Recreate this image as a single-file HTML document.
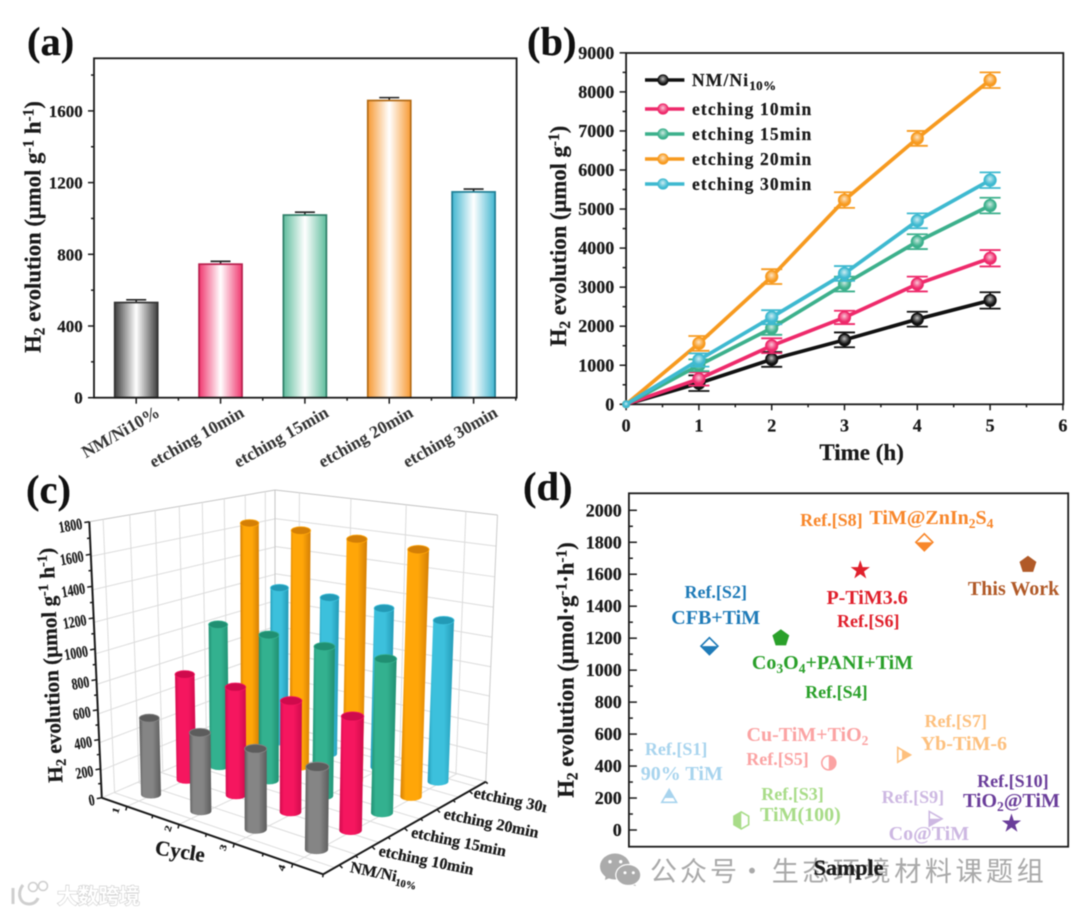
<!DOCTYPE html>
<html lang="en">
<head>
<meta charset="utf-8">
<title>H2 evolution figure</title>
<style>
html,body{margin:0;padding:0;background:#fff;}
svg{display:block;filter:blur(0.55px);}
text{font-family:"Liberation Serif","Noto Serif CJK SC",serif;font-weight:bold;fill:#1a1a1a;stroke:#1a1a1a;stroke-width:.22px;}
.sub{baseline-shift:-4px;font-size:68%;}
.sup{baseline-shift:7px;font-size:68%;}
.d1{font-size:18px;text-anchor:middle;stroke:none;}
.d2{font-size:20px;text-anchor:middle;stroke:none;}
.panel{font-size:40.5px;fill:#111;}
.cjk{font-family:"Noto Sans CJK SC","Liberation Sans",sans-serif;font-weight:400;fill:#a9a9a9;stroke:none;}
</style>
</head>
<body>
<svg id="fig" xmlns="http://www.w3.org/2000/svg" width="1080" height="914" viewBox="0 0 1080 914">
<defs id="defs"><clipPath id="clipC"><rect x="0" y="470" width="546.5" height="444"/></clipPath></defs>
<rect width="1080" height="914" fill="#fff"/>

<text class="panel" x="27" y="55">(a)</text>
<text class="panel" x="527" y="55">(b)</text>
<text class="panel" x="26" y="503">(c)</text>
<text class="panel" x="523" y="500">(d)</text>

<g id="panelA">
<text transform="translate(40.5,227) rotate(-90)" text-anchor="middle" font-size="22.7">H<tspan class="sub">2</tspan> evolution (μmol g<tspan class="sup">-1</tspan> h<tspan class="sup">-1</tspan>)</text>
</g>
<g id="panelB">
<text transform="translate(565.8,236) rotate(-90)" text-anchor="middle" font-size="22.7">H<tspan class="sub">2</tspan> evolution (μmol g<tspan class="sup">-1</tspan>)</text>
<text x="861.6" y="460" text-anchor="middle" font-size="23">Time (h)</text>
</g>
<g id="panelC" clip-path="url(#clipC)">
<text transform="translate(58,665) rotate(-92.2)" text-anchor="middle" font-size="21.2">H<tspan class="sub">2</tspan> evolution (μmol g<tspan class="sup">-1</tspan> h<tspan class="sup">-1</tspan>)</text>
<text transform="translate(179,858) rotate(9)" text-anchor="middle" font-size="21">Cycle</text>
</g>
<g id="panelD">
<text transform="translate(573.6,670) rotate(-90)" text-anchor="middle" font-size="22.7">H<tspan class="sub">2</tspan> evolution (μmol·g<tspan class="sup">-1</tspan>·h<tspan class="sup">-1</tspan>)</text>

<g>
<text class="d1" x="676.1" y="755" style="fill:#a8d4ee">Ref.[S1]</text>
<text class="d2" x="681.8" y="780" style="fill:#a8d4ee">90% TiM</text>
<text class="d1" x="715.7" y="598" style="fill:#1f7bb8">Ref.[S2]</text>
<text class="d2" x="715.7" y="624" style="fill:#1f7bb8">CFB+TiM</text>
<text class="d1" x="792.5" y="800" style="fill:#a8dc88">Ref.[S3]</text>
<text class="d2" x="800.4" y="821" style="fill:#a8dc88">TiM(100)</text>
<text class="d2" x="832.5" y="669" style="fill:#2aa02a">Co<tspan class="sub">3</tspan>O<tspan class="sub">4</tspan>+PANI+TiM</text>
<text class="d1" x="836.4" y="698" style="fill:#2aa02a">Ref.[S4]</text>
<text class="d2" x="807.5" y="741" style="fill:#fba3a3">Cu-TiM+TiO<tspan class="sub">2</tspan></text>
<text class="d1" x="777.5" y="765" style="fill:#fba3a3">Ref.[S5]</text>
<text class="d2" x="867.1" y="604" style="fill:#e0202c">P-TiM3.6</text>
<text class="d1" x="868.2" y="627" style="fill:#e0202c">Ref.[S6]</text>
<text class="d1" x="955.7" y="727" style="fill:#fdc07e">Ref.[S7]</text>
<text class="d2" x="963.9" y="750" style="fill:#fdc07e">Yb-TiM-6</text>
<text class="d1" x="831.4" y="526" style="fill:#f8872b">Ref.[S8]</text>
<text class="d2" x="931.4" y="524" style="fill:#f8872b">TiM@ZnIn<tspan class="sub">2</tspan>S<tspan class="sub">4</tspan></text>
<text class="d1" x="912.9" y="803" style="fill:#cdb8e2">Ref.[S9]</text>
<text class="d2" x="928.9" y="840" style="fill:#cdb8e2">Co@TiM</text>
<text class="d1" x="1012.9" y="787" style="fill:#6a3d9a">Ref.[S10]</text>
<text class="d2" x="1011.4" y="807" style="fill:#6a3d9a">TiO<tspan class="sub">2</tspan>@TiM</text>
<text class="d2" x="1013.6" y="595" style="fill:#b15a28">This Work</text>
</g>
</g>

<g>
<path d="M606 873 L605 880 L612 877 Z" fill="#ababab"/>
<ellipse cx="615" cy="866.5" rx="15" ry="13" fill="#ababab"/>
<circle cx="610" cy="861.7" r="1.7" fill="#fff"/>
<circle cx="620.7" cy="861.7" r="1.7" fill="#fff"/>
<path d="M633 881 L636 886 L628 884 Z" fill="#ababab"/>
<ellipse cx="628.3" cy="875" rx="12.5" ry="10.5" fill="#ababab" stroke="#fff" stroke-width="1.2"/>
<circle cx="625" cy="872.7" r="1.5" fill="#fff"/>
<circle cx="633.3" cy="872.7" r="1.5" fill="#fff"/>
<text class="cjk" x="650" y="881" font-size="27" textLength="87" lengthAdjust="spacing">公众号</text>
<text class="cjk" x="752" y="881" font-size="27" text-anchor="middle">·</text>
<text class="cjk" x="771.7" y="881" font-size="27" textLength="272" lengthAdjust="spacing">生态环境材料课题组</text>
</g>
<text x="848.6" y="875" text-anchor="middle" font-size="22">Sample</text>

<g>
<path d="M13 888 L13 904 M23 885 C17 892 19 904 29 904 C34 904 37 901 38 898" fill="none" stroke="#cfcfcf" stroke-width="3"/>
<circle cx="33" cy="887" r="4.5" fill="#fff" stroke="#cfcfcf" stroke-width="1.6"/>
<circle cx="43" cy="886" r="4.5" fill="#fff" stroke="#cfcfcf" stroke-width="1.6"/>
<text x="57" y="903.5" font-size="21" textLength="83" lengthAdjust="spacing" style="fill:#fff;stroke:#c8c8c8;stroke-width:1.1px;paint-order:stroke;font-family:'Noto Sans CJK SC','Liberation Sans',sans-serif">大数跨境</text>
</g>
</svg>

<script>
// ---------- Panel (a) data ----------
const aCategories = ['NM/Ni10%', 'etching 10min', 'etching 15min', 'etching 20min', 'etching 30min'];
const aValues = [531, 745, 1019, 1658, 1148];
const aErrors = [15, 16, 16, 16, 16];
const aYTicks = [0, 400, 800, 1200, 1600];
const aYMinorTicks = [200, 600, 1000, 1400, 1800];

// ---------- Panel (b) data ----------
const bHours = [0, 1, 2, 3, 4, 5];
const bSeriesNames = ['NM/Ni10%', 'etching 10min', 'etching 15min', 'etching 20min', 'etching 30min'];
const bBlack = [0, 540, 1150, 1650, 2180, 2660];
const bPink = [0, 650, 1500, 2225, 3080, 3740];
const bGreen = [0, 1000, 1950, 3080, 4165, 5090];
const bOrange = [0, 1560, 3270, 5230, 6810, 8300];
const bCyan = [0, 1135, 2230, 3350, 4700, 5740];
const bBlackErr = [0, 200, 190, 190, 190, 210];
const bPinkErr = [0, 170, 190, 170, 190, 210];
const bGreenErr = [0, 150, 170, 190, 190, 200];
const bOrangeErr = [0, 190, 190, 200, 190, 200];
const bCyanErr = [0, 170, 180, 190, 190, 200];
const bYTicks = [0, 1000, 2000, 3000, 4000, 5000, 6000, 7000, 8000, 9000];
const bXTicks = [0, 1, 2, 3, 4, 5, 6];

// ---------- Panel (c) data ----------
const cCycles = ['1', '2', '3', '4'];
const cCategories = ['NM/Ni', 'etching 10min', 'etching 15min', 'etching 20min', 'etching 30min'];
const cGray = [530, 530, 530, 530];
const cPink = [745, 745, 748, 750];
const cGreen = [1020, 1025, 1030, 1040];
const cOrange = [1690, 1700, 1710, 1715];
const cCyan = [1150, 1150, 1150, 1150];
const cZTicks = [0, 200, 400, 600, 800, 1000, 1200, 1400, 1600, 1800];

// ---------- Panel (d) data ----------
const dSamples = ['S1', 'S2', 'S3', 'S4', 'S5', 'S6', 'S7', 'S8', 'S9', 'S10', 'This Work'];
const dSampleX = [1.10, 2.20, 3.07, 4.15, 5.46, 6.32, 7.46, 8.07, 8.32, 10.45, 10.90];
const dValues = [200, 1150, 60, 1200, 420, 1625, 470, 1800, 70, 40, 1660];
const dYTicks = [0, 200, 400, 600, 800, 1000, 1200, 1400, 1600, 1800, 2000];

// ---------- Styling ----------
const barColors = [['#3f3f3f', '#333'], ['#f0386f', '#b8204e'], ['#5fbd9d', '#2f7f68'], ['#f79a34', '#b36a14'], ['#42b6d0', '#1f7f95']];
const lineColors = ['#111111', '#ee2a6b', '#3cb08c', '#f79a1f', '#3eb9d0'];
const cylColors = [['#5c5c5c', '#858585'], ['#cf0a4c', '#f5165f'], ['#208f72', '#33b18f'], ['#d47f06', '#ffa608'], ['#239ab6', '#3cc0dc']];
const dColors = ['#a8d4ee', '#1f7bb8', '#a8dc88', '#2aa02a', '#fba3a3', '#e0202c', '#fdc07e', '#f8872b', '#cdb8e2', '#6a3d9a', '#b15a28'];
const dShapes = ['tri', 'dia', 'hex', 'pent', 'circ', 'star', 'rtri', 'dia', 'rtri', 'star', 'pent'];
const dHalf = ['t', 'b', 'l', 'all', 'r', 'all', 'r', 'b', 'b', 'all', 'all'];

const NS = 'http://www.w3.org/2000/svg';
const defs = document.getElementById('defs');

function mk(parent, tag, attrs) {
  const e = document.createElementNS(NS, tag);
  for (const k in attrs) e.setAttribute(k, attrs[k]);
  parent.appendChild(e);
  return e;
}
function tick(parent, x1, y1, x2, y2, w) {
  const t = mk(parent, 'line', { x1: x1, y1: y1, x2: x2, y2: y2, stroke: '#1a1a1a', 'stroke-width': w || 1.5 });
  
  
  return t;
}
function tickLabel(parent, x, y, str, size, anchor) {
  const t = mk(parent, 'text', { x: x, y: y, 'font-size': size, 'text-anchor': anchor });
  t.textContent = str;
  
  
  return t;
}
function frame(parent, x, y, w, h, sw) {
  const r = mk(parent, 'rect', { x: x, y: y, width: w, height: h, fill: 'none', stroke: '#1a1a1a', 'stroke-width': sw });
  
  
}
function hGrad(id, edge, mid) {
  const g = mk(defs, 'linearGradient', { id: id, x1: 0, y1: 0, x2: 1, y2: 0 });
  mk(g, 'stop', { offset: '0', 'stop-color': edge });
  mk(g, 'stop', { offset: '0.5', 'stop-color': mid });
  mk(g, 'stop', { offset: '1', 'stop-color': edge });
}
function quad(p0, p1, p2, p3) {
  const dx1 = p1[0] - p2[0], dx2 = p3[0] - p2[0], sx = p0[0] - p1[0] + p2[0] - p3[0];
  const dy1 = p1[1] - p2[1], dy2 = p3[1] - p2[1], sy = p0[1] - p1[1] + p2[1] - p3[1];
  const det = dx1 * dy2 - dx2 * dy1;
  const g = (sx * dy2 - dx2 * sy) / det, h = (dx1 * sy - sx * dy1) / det;
  const a = p1[0] - p0[0] + g * p1[0], b = p3[0] - p0[0] + h * p3[0], c = p0[0];
  const d = p1[1] - p0[1] + g * p1[1], e = p3[1] - p0[1] + h * p3[1], f = p0[1];
  return function (u, v) {
    const w = g * u + h * v + 1;
    return [(a * u + b * v + c) / w, (d * u + e * v + f) / w];
  };
}
function bilerp(a, b, c, d, u, v) {
  return (a * (1 - u) + b * u) * (1 - v) + (d * (1 - u) + c * u) * v;
}

// ========== Panel A ==========
(function () {
  const p = document.getElementById('panelA');
  const L = 94, R = 516.6, T = 58.3, B = 397.7;
  const ay = v => B - v * 0.17925;
  const ax = i => 136.2 + i * 84.35;
  const bw = 43;
  aCategories.forEach(function (c, i) {
    hGrad('ga' + i, barColors[i][0], '#ffffff');
    const top = ay(aValues[i]);
    const eb = mk(p, 'path', { d: 'M' + ax(i) + ' ' + top + 'V' + ay(aValues[i] + aErrors[i]) + 'M' + (ax(i) - 10) + ' ' + ay(aValues[i] + aErrors[i]) + 'h20', stroke: '#222', 'stroke-width': 1.6, fill: 'none' });
    
    
    const r = mk(p, 'rect', { x: ax(i) - bw / 2, y: top, width: bw, height: B - top, fill: 'url(#ga' + i + ')', stroke: barColors[i][1], 'stroke-width': 1.7 });
    
    
    tick(p, ax(i), B, ax(i), B + 6);
    tick(p, ax(i) + 42.2, B, ax(i) + 42.2, B + 3);
    const lx = [123.4, 199.5, 284, 368.5, 453][i];
    const ly = i === 0 ? 432 : 437;
    const t = mk(p, 'text', { 'font-size': 17.5, 'text-anchor': 'middle', transform: 'translate(' + lx + ',' + (ly + 5) + ') rotate(-29.7)', style: 'fill:#333;stroke:none' });
    t.textContent = c;
    
    
  });
  frame(p, L, T, R - L, B - T, 1.8);
  aYTicks.forEach(function (v) {
    tick(p, L, ay(v), 88, ay(v));
    tickLabel(p, 82.8, ay(v) + 6, String(v), 17, 'end');
  });
  aYMinorTicks.forEach(function (v) { tick(p, L, ay(v), 91, ay(v)); });
})();

// ========== Panel B ==========
(function () {
  const p = document.getElementById('panelB');
  const L = 626.1, R = 1063.3, T = 53, B = 404.3;
  const bx = h => L + h * 72.8;
  const by = v => B - v * 0.03905;
  const rg = mk(defs, 'radialGradient', { id: 'mkGrad', cx: '.48', cy: '.38', r: '.55' });
  mk(rg, 'stop', { offset: '0', 'stop-color': '#fff', 'stop-opacity': '.75' });
  mk(rg, 'stop', { offset: '.55', 'stop-color': '#fff', 'stop-opacity': '.3' });
  mk(rg, 'stop', { offset: '1', 'stop-color': '#fff', 'stop-opacity': '0' });
  const series = [bBlack, bPink, bGreen, bOrange, bCyan];
  const errs = [bBlackErr, bPinkErr, bGreenErr, bOrangeErr, bCyanErr];
  frame(p, L, T, R - L, B - T, 1.8);
  bYTicks.forEach(function (v) {
    tick(p, L, by(v), L - 6.5, by(v));
    tickLabel(p, 614.2, by(v) + 6, String(v), 18, 'end');
    if (v < 9000) tick(p, L, by(v + 500), L - 3.5, by(v + 500));
  });
  bXTicks.forEach(function (h) {
    tick(p, bx(h), B, bx(h), B + 6);
    tickLabel(p, bx(h), 431.7, String(h), 18, 'middle');
    if (h < 6) tick(p, bx(h + 0.5), B, bx(h + 0.5), B + 3);
  });
  series.forEach(function (vals, s) {
    const col = lineColors[s];
    const g = mk(p, 'g', {});
    
    
    bHours.forEach(function (h, i) {
      if (errs[s][i] <= 0) return;
      const hi = by(vals[i] + errs[s][i]), lo = by(vals[i] - errs[s][i]);
      const eb = mk(g, 'path', { d: 'M' + bx(h) + ' ' + hi + 'V' + lo + 'M' + (bx(h) - 10.5) + ' ' + hi + 'h21M' + (bx(h) - 10.5) + ' ' + lo + 'h21', stroke: col, 'stroke-width': 1.8, fill: 'none' });
      
      
    });
    const pts = bHours.map((h, i) => bx(h) + ',' + by(vals[i])).join(' ');
    const line = mk(g, 'polyline', { points: pts, fill: 'none', stroke: col, 'stroke-width': 3.7, 'stroke-linejoin': 'round' });
    
    
    bHours.forEach(function (h, i) {
      const rr = i === 0 ? 3 : 5.6;
      const c0 = mk(g, 'circle', { cx: bx(h), cy: by(vals[i]), r: rr, fill: col, stroke: col, 'stroke-width': 2 });
      
      
      const c1 = mk(g, 'circle', { cx: bx(h), cy: by(vals[i]), r: rr - 0.6, fill: 'url(#mkGrad)' });
      
      
    });
  });
  const rows = [80, 109, 134, 159, 184];
  bSeriesNames.forEach(function (nm, i) {
    const lg = mk(p, 'g', {});
    
    
    mk(lg, 'line', { x1: 645, y1: rows[i], x2: 684.4, y2: rows[i], stroke: lineColors[i], 'stroke-width': 3.6 });
    mk(lg, 'circle', { cx: 663, cy: rows[i], r: 5.6, fill: lineColors[i] });
    mk(lg, 'circle', { cx: 663, cy: rows[i], r: 4.6, fill: 'url(#mkGrad)' });
    const t = mk(lg, 'text', { x: 692, y: rows[i] + 6, 'font-size': 17.5, 'letter-spacing': 1.15 });
    if (i === 0) {
      t.textContent = 'NM/Ni';
      const sb = mk(t, 'tspan', { 'font-size': 13, 'baseline-shift': '-4px', 'letter-spacing': 0.4 });
      sb.textContent = '10%';
    } else {
      t.textContent = nm;
    }
  });
})();

// ========== Panel C ==========
(function () {
  const p = document.getElementById('panelC');
  const pL = [101.8, 797.8], pF = [323.2, 874.3], pR = [485.7, 781.7], pB = [275, 723];
  const pTL = [89.3, 521.7], pTB = [275, 490], pTR = [497.5, 515];
  const floor = quad(pL, pF, pR, pB);
  const wallL = quad(pL, pB, pTB, pTL);
  const wallR = quad(pB, pR, pTR, pTB);
  const zMap = v => { const f = v / 1800; return f / (f + 1.07 * (1 - f)); };
  const gridG = mk(p, 'g', { stroke: '#dcdcdc', 'stroke-width': 1, fill: 'none' });
  
  
  function seg(f, a, b, col) {
    const s = f(a[0], a[1]), e = f(b[0], b[1]);
    const ln = mk(gridG, 'line', { x1: s[0], y1: s[1], x2: e[0], y2: e[1] });
    if (col) ln.setAttribute('stroke', col);
  }
  cZTicks.forEach(function (v) {
    const top = v === 1800 ? '#c6c6c6' : null;
    seg(wallL, [0, zMap(v)], [1, zMap(v)], top);
    seg(wallR, [0, zMap(v)], [1, v / 1800], top);
  });
  for (let i = 0; i < 8; i++) {
    seg(wallL, [(i + 0.5) / 8, 0], [(i + 0.5) / 8, 1]);
    seg(floor, [0, (i + 0.5) / 8], [1, (i + 0.5) / 8]);
  }
  for (let i = 0; i < 4; i++) {
    seg(wallR, [(i + 0.5) / 4, 0], [(i + 0.5) / 4, 1]);
    seg(floor, [(i + 0.5) / 4, 0], [(i + 0.5) / 4, 1]);
  }
  seg(wallL, [1, 0], [1, 1], '#c6c6c6');
  seg(wallR, [1, 0], [1, 1], '#cccccc');
  seg(floor, [0, 1], [1, 1]);
  seg(floor, [1, 1], [0, 1]);

  // axes
  const axG = mk(p, 'g', {});
  
  
  mk(axG, 'line', { x1: pL[0], y1: pL[1], x2: pTL[0], y2: pTL[1], stroke: '#1a1a1a', 'stroke-width': 2 });
  mk(axG, 'line', { x1: pL[0], y1: pL[1], x2: pF[0], y2: pF[1], stroke: '#1a1a1a', 'stroke-width': 2 });
  mk(axG, 'line', { x1: pF[0], y1: pF[1], x2: pR[0], y2: pR[1], stroke: '#1a1a1a', 'stroke-width': 2 });
  cZTicks.forEach(function (v) {
    const f = zMap(v);
    const x = pL[0] + (pTL[0] - pL[0]) * f, y = pL[1] + (pTL[1] - pL[1]) * f;
    tick(axG, x, y, x - 5, y + 0.8);
    const f2 = zMap(v + 100);
    if (v < 1800) tick(axG, pL[0] + (pTL[0] - pL[0]) * f2, pL[1] + (pTL[1] - pL[1]) * f2, pL[0] + (pTL[0] - pL[0]) * f2 - 3, pL[1] + (pTL[1] - pL[1]) * f2 + 0.5);
    const t = mk(p, 'text', { 'font-size': 16, 'text-anchor': 'end', transform: 'translate(' + (x - 6.4) + ',' + (y + 7) + ') rotate(-10) scale(.74,1)' });
    t.textContent = String(v);
    
    
  });
  cCycles.forEach(function (c, i) {
    const m = floor((i + 0.5) / 4, 0);
    tick(axG, m[0], m[1], m[0] - 1, m[1] + 4);
    const m2 = floor((i + 1) / 4, 0);
    tick(axG, m2[0], m2[1], m2[0] - 0.5, m2[1] + 3);
    const t = mk(p, 'text', { 'font-size': 12, 'text-anchor': 'middle', transform: 'translate(' + (m[0] - 8) + ',' + (m[1] + 5) + ') rotate(-72) scale(1,.8)' });
    t.textContent = c;
    
    
  });
  const catAt = t => [pF[0] + (pR[0] - pF[0]) * t, pF[1] + (pR[1] - pF[1]) * t];
  cCategories.forEach(function (c, i) {
    const m = catAt((i + 0.5) / 5);
    tick(axG, m[0], m[1], m[0] + 3, m[1] + 3);
    const m2 = catAt((i + 1) / 5);
    tick(axG, m2[0], m2[1], m2[0] + 2, m2[1] + 2);
    const ox = i === 0 ? 10 : (i === 4 ? 3.5 : 6), oy = i === 0 ? 7 : (i === 4 ? 6.5 : 9);
    const t = mk(p, 'text', { 'font-size': 16, transform: 'translate(' + (m[0] + ox) + ',' + (m[1] + oy) + ') rotate(11.6)' });
    t.textContent = c;
    if (i === 0) {
      const sb = mk(t, 'tspan', { 'font-size': 10.5, 'baseline-shift': '-4px' });
      sb.textContent = '10%';
    }
    
    
  });

  // cylinders
  const base = quad([151, 794.5], [316.5, 849.5], [438, 781.5], [279, 741.7]);
  const rows = [cGray, cPink, cGreen, cOrange, cCyan];
  cylColors.forEach(function (col, i) {
    const g = mk(defs, 'linearGradient', { id: 'gc' + i, x1: 0, y1: 0, x2: 1, y2: 0 });
    mk(g, 'stop', { offset: '0', 'stop-color': col[0] });
    mk(g, 'stop', { offset: '0.18', 'stop-color': col[1] });
    mk(g, 'stop', { offset: '0.62', 'stop-color': col[1] });
    mk(g, 'stop', { offset: '1', 'stop-color': col[0] });
  });
  const barsG = mk(p, 'g', {});
  
  
  for (let cat = rows.length - 1; cat >= 0; cat--) {
    rows[cat].forEach(function (val, cyc) {
      const u = cyc / (cCycles.length - 1), v = cat / (rows.length - 1);
      const b = base(u, v);
      const s = bilerp(0.144, 0.156, 0.14, 0.1337, u, v);
      const r = bilerp(10, 11.6, 10.4, 9, u, v);
      const ry = r * 0.4;
      const h = val * s;
      const tx = b[0] + h * 2e-4 * (b[0] - 263.6), ty = b[1] - h;
      const cyl = mk(barsG, 'g', {});
      
      
      mk(cyl, 'path', {
        d: 'M' + (tx - r) + ' ' + ty + 'L' + (b[0] - r) + ' ' + b[1] + 'A' + r + ' ' + ry + ' 0 0 0 ' + (b[0] + r) + ' ' + b[1] + 'L' + (tx + r) + ' ' + ty + 'Z',
        fill: 'url(#gc' + cat + ')'
      });
      mk(cyl, 'ellipse', { cx: tx, cy: ty, rx: r, ry: ry, fill: cylColors[cat][0], stroke: cylColors[cat][1], 'stroke-width': 0.8 });
    });
  }
})();

// ========== Panel D ==========
(function () {
  const p = document.getElementById('panelD');
  const L = 628.9, R = 1068.2, T = 493.3, B = 846.7;
  const dy = v => 830 - v * 0.15985;
  const dx = x => L + x * 36.61;
  frame(p, L, T, R - L, B - T, 1.8);
  dYTicks.forEach(function (v) {
    tick(p, L, dy(v), L + 8, dy(v));
    tickLabel(p, 621.8, dy(v) + 6, String(v), 18, 'end');
    if (v < 2000) tick(p, L, dy(v + 100), L + 4, dy(v + 100));
  });
  function shape(kind, cx, cy, rr) {
    const poly = (n, rot) => Array.from({ length: n }, (_, k) => {
      const a = rot + k * 2 * Math.PI / n;
      return (cx + rr * Math.cos(a)).toFixed(2) + ',' + (cy + rr * Math.sin(a)).toFixed(2);
    }).join(' ');
    if (kind === 'tri') return poly(3, -Math.PI / 2);
    if (kind === 'rtri') return poly(3, 0);
    if (kind === 'dia') return poly(4, -Math.PI / 2);
    if (kind === 'hex') return poly(6, -Math.PI / 2);
    if (kind === 'pent') return poly(5, -Math.PI / 2);
    if (kind === 'star') {
      return Array.from({ length: 10 }, (_, k) => {
        const a = -Math.PI / 2 + k * Math.PI / 5, q = k % 2 ? rr * 0.42 : rr * 1.08;
        return (cx + q * Math.cos(a)).toFixed(2) + ',' + (cy + q * Math.sin(a)).toFixed(2);
      }).join(' ');
    }
    return null;
  }
  dSamples.forEach(function (nm, i) {
    const cx = dx(dSampleX[i]), cy = dy(dValues[i]);
    const col = dColors[i];
    const g = mk(p, 'g', {});
    
    
    const rr = 8.5;
    const half = dHalf[i];
    const cid = 'cd' + i;
    if (half !== 'all') {
      const cp = mk(defs, 'clipPath', { id: cid });
      const rc = { t: [cx - 12, cy - 12, 24, 12], b: [cx - 12, cy, 24, 12], l: [cx - 12, cy - 12, 12, 24], r: [cx, cy - 12, 12, 24] }[half];
      mk(cp, 'rect', { x: rc[0], y: rc[1], width: rc[2], height: rc[3] });
    }
    const attrs = half === 'all' ? { fill: col, stroke: col, 'stroke-width': 0.6 } : { fill: '#fff', stroke: col, 'stroke-width': 1.6 };
    if (dShapes[i] === 'circ') {
      mk(g, 'circle', Object.assign({ cx: cx, cy: cy, r: rr - 1.5 }, attrs));
      if (half !== 'all') mk(g, 'circle', { cx: cx, cy: cy, r: rr - 1.5, fill: col, 'clip-path': 'url(#' + cid + ')' });
    } else {
      const pts = shape(dShapes[i], cx, cy, rr);
      mk(g, 'polygon', Object.assign({ points: pts }, attrs));
      if (half !== 'all') mk(g, 'polygon', { points: pts, fill: col, 'clip-path': 'url(#' + cid + ')' });
    }
  });
})();
</script>
</body>
</html>
